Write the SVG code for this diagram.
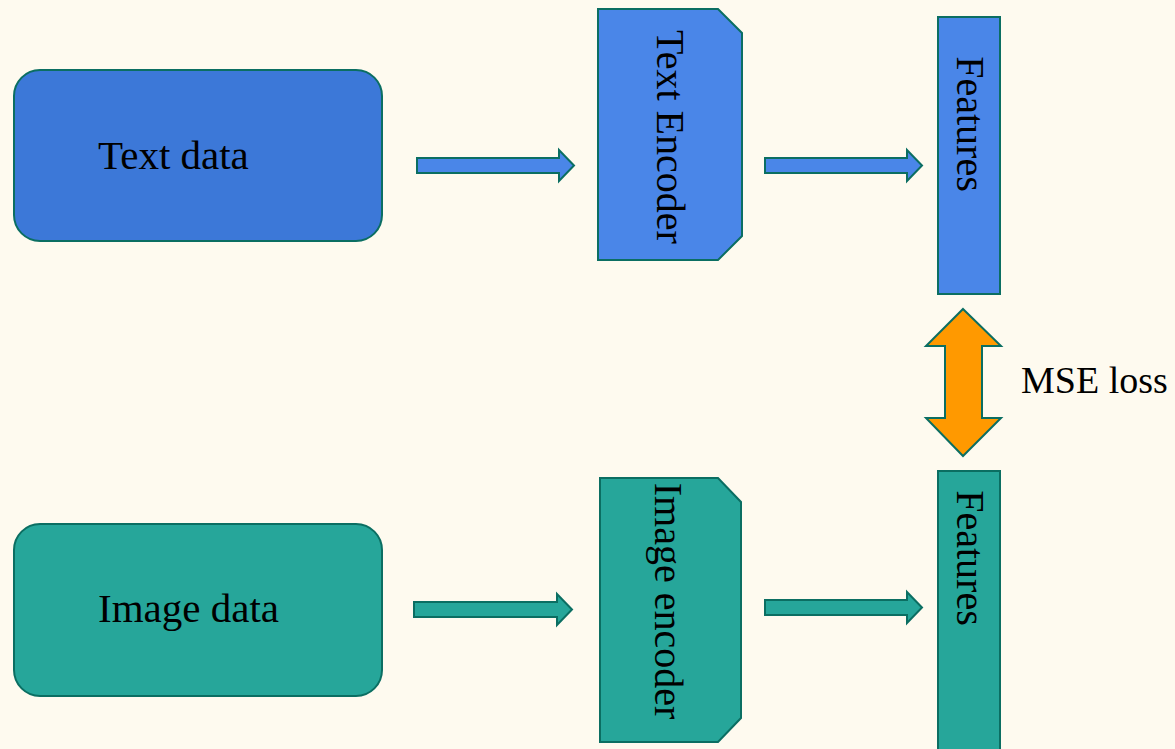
<svg xmlns="http://www.w3.org/2000/svg" width="1175" height="749" viewBox="0 0 1175 749">
<style>
.s{stroke:#0b6e62;stroke-width:2;stroke-linejoin:miter}
.t{font-family:"Liberation Serif","DejaVu Serif",serif;font-size:40px;fill:#000}
.h{font-size:41px}
.blue1{fill:#3c78d8}.blue2{fill:#4a86e8}.teal{fill:#26a69a}.orange{fill:#ff9900}
</style>
<rect width="1175" height="749" fill="#fefaef"/>
<g id="text-data"><rect class="s blue1" x="14" y="70" width="368" height="171" rx="26"/><text class="t h" x="98" y="169">Text data</text></g>
<g id="image-data"><rect class="s teal" x="14" y="524" width="368" height="172" rx="26"/><text class="t h" x="98" y="622">Image data</text></g>
<g id="text-encoder"><path class="s blue2" d="M598,9H718L742,33V236L718,260H598Z"/><text class="t" text-anchor="middle" transform="translate(657,137) rotate(90)">Text Encoder</text></g>
<g id="image-encoder"><path class="s teal" d="M600,478H718L741,502V718L718,742H600Z"/><text class="t" text-anchor="middle" transform="translate(655,601) rotate(90)">Image encoder</text></g>
<g id="text-features"><rect class="s blue2" x="938" y="17" width="62" height="277"/><text class="t" text-anchor="middle" transform="translate(957,124) rotate(90)">Features</text></g>
<g id="image-features"><rect class="s teal" x="938" y="471" width="62" height="280"/><text class="t" text-anchor="middle" transform="translate(957,558) rotate(90)">Features</text></g>
<g id="connectors">
<polygon class="s blue2" points="417,158 559,158 559,150 574,165.5 559,181 559,173 417,173"/>
<polygon class="s blue2" points="765,158 907,158 907,150 922,165.5 907,181 907,173 765,173"/>
<polygon class="s teal" points="414,602 557,602 557,594 572,609.5 557,625 557,617 414,617"/>
<polygon class="s teal" points="765,600 907,600 907,592 922,607.5 907,623 907,615 765,615"/>
<polygon class="s orange" points="963,309 1001,346 982,346 982,418 1001,418 963,456 926,418 945,418 945,346 926,346"/>
</g>
<text class="t" style="font-size:38px" x="1021" y="393">MSE loss</text>
</svg>
